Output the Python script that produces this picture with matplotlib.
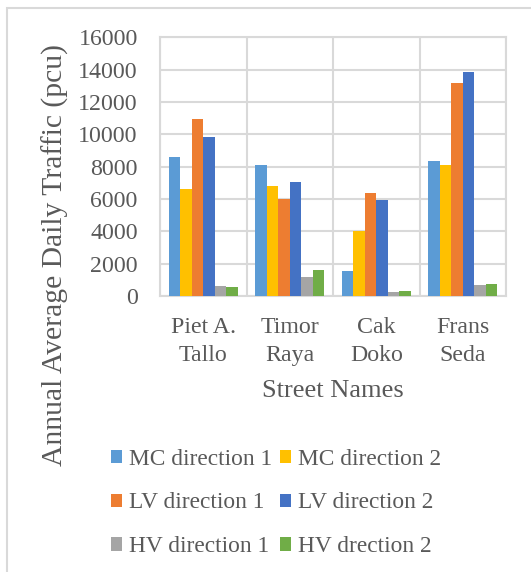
import matplotlib
matplotlib.use("Agg")
import matplotlib.pyplot as plt
from matplotlib.patches import Rectangle, Patch
import numpy as np

streets = ["Piet A.\nTallo", "Timor\nRaya", "Cak\nDoko", "Frans\nSeda"]
series_names = ["MC direction 1", "MC direction 2", "LV direction 1",
                "LV direction 2", "HV direction 1", "HV drection 2"]
mc_dir1 = [8600, 8130, 1570, 8330]
mc_dir2 = [6620, 6800, 4040, 8100]
lv_dir1 = [10930, 6020, 6390, 13200]
lv_dir2 = [9820, 7030, 5960, 13840]
hv_dir1 = [620, 1180, 230, 700]
hv_dir2 = [580, 1590, 290, 760]
colors = ["#5B9BD5", "#FFC000", "#ED7D31", "#4472C4", "#A5A5A5", "#70AD47"]
yticks = [0, 2000, 4000, 6000, 8000, 10000, 12000, 14000, 16000]

text_col = "#595959"
grid_col = "#D9D9D9"
plt.rcParams["font.family"] = ["Liberation Serif", "DejaVu Serif"]

W, H = 531, 572
fig = plt.figure(figsize=(W / 100, H / 100), dpi=100)

# outer chart frame (only top and left edges fall inside the canvas)
fig.patches.append(Rectangle((7 / W, -0.1), 1.2, 1 - 8 / H + 0.1,
                             transform=fig.transFigure, fill=False,
                             edgecolor=grid_col, linewidth=1.5))

ax = fig.add_axes([160 / W, 1 - 296 / H, 346 / W, 258.6 / H])
data = [mc_dir1, mc_dir2, lv_dir1, lv_dir2, hv_dir1, hv_dir2]
n = len(data)
x = np.arange(len(streets))
bw = 0.8 / n
for i, (vals, c) in enumerate(zip(data, colors)):
    ax.bar(x - 0.4 + bw * (i + 0.5), vals, width=bw, color=c, zorder=3)

ax.set_xlim(-0.5, len(streets) - 0.5)
ax.set_ylim(0, 16000)
ax.set_yticks(yticks)
ax.set_yticklabels([str(v) for v in yticks])
ax.set_xticks(x)
ax.set_xticklabels(streets, linespacing=1.45)
# category separators and horizontal gridlines
ax.set_xticks(np.arange(len(streets) + 1) - 0.5, minor=True)
ax.grid(axis="y", color=grid_col, linewidth=1.5, zorder=0)
ax.grid(axis="x", which="minor", color=grid_col, linewidth=1.5, zorder=0)
ax.tick_params(axis="both", which="both", length=0, colors=text_col,
               labelsize=17.2)
ax.tick_params(axis="y", pad=16)
ax.tick_params(axis="x", pad=15)
for s in ax.spines.values():
    s.set_color(grid_col)
    s.set_linewidth(1.5)

ax.set_xlabel("Street Names", fontsize=19, color=text_col, labelpad=10)
fig.text(55 / W, 1 - 255 / H, "Annual Average Daily Traffic (pcu)",
         rotation=90, ha="center", va="center", fontsize=21.3, color=text_col)

handles = [Patch(facecolor=c, edgecolor="none") for c in colors]
order = [0, 2, 4, 1, 3, 5]
fig.legend([handles[i] for i in order], [series_names[i] for i in order],
           ncol=2, loc="center", bbox_to_anchor=(0.52, 1 - 503 / H),
           frameon=False, fontsize=16.8, labelcolor=text_col,
           handlelength=0.5, handleheight=0.5, handletextpad=0.3,
           columnspacing=0.3, labelspacing=0.98)

fig.savefig("out.png", dpi=100)
